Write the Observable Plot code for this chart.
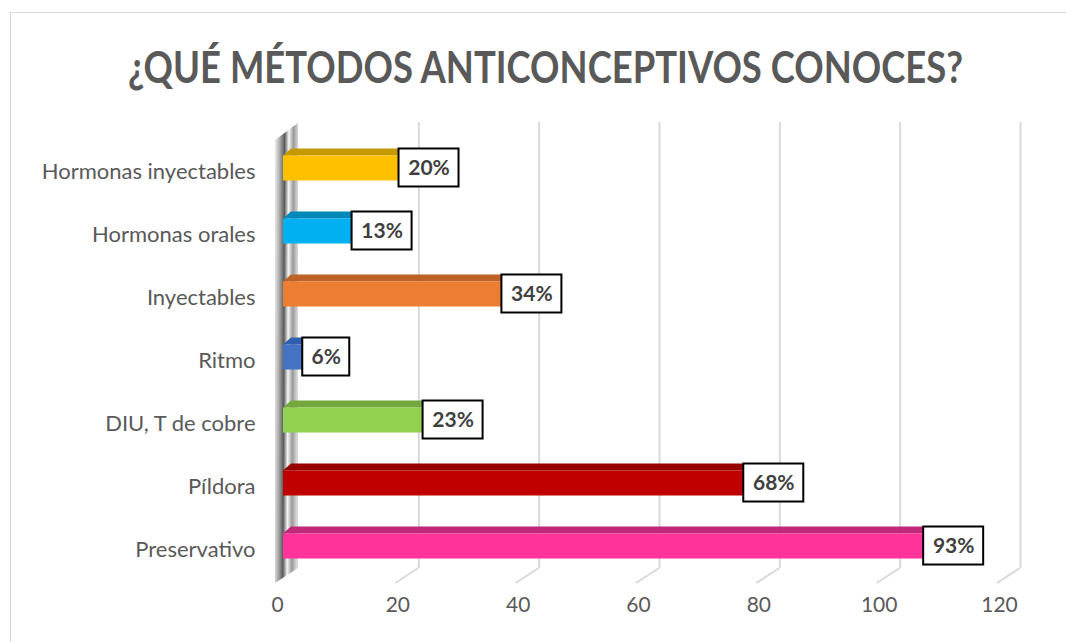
<!DOCTYPE html>
<html>
<head>
<meta charset="utf-8">
<script src="https://cdn.jsdelivr.net/npm/d3@7"></script>
<script src="https://cdn.jsdelivr.net/npm/@observablehq/plot@0.6"></script>
<style>
  html, body { margin: 0; padding: 0; background: #fff; overflow: hidden; }
  body { position: relative; width: 1066px; height: 642px; }
  #frame { position: absolute; left: 10px; top: 12px; width: 1100px; height: 700px; border: 1px solid #d9d9d9; }
  #title { position: absolute; left: 0; top: 0; width: 1066px; height: 100px; }
  #title span { position: absolute; top: 44px; left: 0; white-space: nowrap; font-family: Lato, "Open Sans", sans-serif; font-weight: 700; font-size: 44px; line-height: 44px; color: #595959; transform-origin: 0 0; }
  #chart { position: absolute; left: 0; top: 100px; }
</style>
</head>
<body>
<div id="frame"></div>
<div id="title"><span id="ttl">¿QUÉ MÉTODOS ANTICONCEPTIVOS CONOCES?</span></div>
<div id="chart"></div>
<script>
const categories = ["Hormonas inyectables", "Hormonas orales", "Inyectables", "Ritmo", "DIU, T de cobre", "Píldora", "Preservativo"];
const values = [19.2, 11.4, 36.3, 3.2, 23.2, 76.5, 106.4];
const labels = ["20%", "13%", "34%", "6%", "23%", "68%", "93%"];
const frontColors = ["#FFC000", "#00B0F0", "#ED7D31", "#4472C4", "#92D050", "#C00000", "#FF3399"];
const topColors = ["#C49A00", "#0088B8", "#BE6226", "#2F5FAE", "#74A83E", "#960000", "#C2287A"];
const xTicks = [0, 20, 40, 60, 80, 100, 120];

const data = categories.map((c, i) => ({cat: c, k: i, value: values[i], label: labels[i], front: frontColors[i], top: topColors[i]}));

const DX = 8, DY = 7; // bar depth offset
function threeD(index, scales, vals, dims) {
  const x = scales.x, y = scales.y;
  const g = d3.create("svg:g");
  const defs = g.append("defs");
  const grad = defs.append("linearGradient").attr("id", "wallGrad").attr("x1", 0).attr("x2", 1).attr("y1", 0).attr("y2", 0.08);
  [[0, "#ececec"], [0.2, "#b0b0b0"], [0.42, "#5a5a5a"], [0.6, "#f6f6f6"], [0.8, "#9a9a9a"], [1, "#d8d8d8"]]
    .forEach(([o, c]) => grad.append("stop").attr("offset", o).attr("stop-color", c));
  const bottom = dims.height - dims.marginBottom;
  const top = dims.marginTop;
  // floor diagonals
  xTicks.filter(t => t > 0).forEach(t => {
    g.append("line").attr("x1", x(t) + 15).attr("y1", bottom - 15).attr("x2", x(t) - 8).attr("y2", bottom)
      .attr("stroke", "#d9d9d9").attr("stroke-width", 2);
  });
  // wall
  const x0 = x(0);
  g.append("polygon")
    .attr("points", [[x0 - 8, top + 18], [x0 + 15, top + 1], [x0 + 15, bottom - 15], [x0 - 8, bottom]].map(p => p.join(",")).join(" "))
    .attr("fill", "url(#wallGrad)");
  // bar top and side faces
  data.forEach(d => {
    const cy = y(d.k);
    const yt = cy - 12.5, yb = cy + 12.5;
    const xa = x(0), xb = x(d.value);
    g.append("polygon")
      .attr("points", [[xa, yt], [xb, yt], [xb + DX, yt - DY], [xa + DX, yt - DY]].map(p => p.join(",")).join(" "))
      .attr("fill", d.top);
    g.append("polygon")
      .attr("points", [[xb, yt], [xb + DX, yt - DY], [xb + DX, yb - DY], [xb, yb]].map(p => p.join(",")).join(" "))
      .attr("fill", d.top);
  });
  return g.node();
}

const font = "Lato, 'Open Sans', sans-serif";
const short = data.filter(d => d.label.length < 3);
const long = data.filter(d => d.label.length >= 3);

const chart = Plot.plot({
  width: 1066,
  height: 542,
  marginLeft: 283,
  marginRight: 61,
  marginTop: 22,
  marginBottom: 59,
  style: {background: "none", fontFamily: font},
  x: {domain: [0, 120], axis: null},
  y: {type: "linear", domain: [-0.73, 6.587], range: [22, 483], axis: null},
  marks: [
    Plot.ruleX(xTicks.filter(t => t > 0), {x: d => d, dx: 15, insetBottom: 15, stroke: "#d9d9d9", strokeWidth: 2}),
    threeD,
    Plot.rect(data, {x1: 0, x2: "value", y1: d => d.k - 0.5, y2: d => d.k + 0.5, insetTop: 19, insetBottom: 19, fill: "front"}),
    Plot.rect(long, {x1: "value", x2: "value", y1: d => d.k - 0.5, y2: d => d.k + 0.5, insetTop: 12, insetBottom: 13, insetRight: -60, fill: "white", stroke: "black", strokeWidth: 2}),
    Plot.rect(short, {x1: "value", x2: "value", y1: d => d.k - 0.5, y2: d => d.k + 0.5, insetTop: 12, insetBottom: 13, insetRight: -47, fill: "white", stroke: "black", strokeWidth: 2}),
    Plot.text(long, {x: "value", y: "k", text: "label", dx: 30, dy: 0, fontSize: 21, fontWeight: 700, fill: "#404040"}),
    Plot.text(short, {x: "value", y: "k", text: "label", dx: 23.5, dy: 0, fontSize: 21, fontWeight: 700, fill: "#404040"}),
    Plot.text(data, {x: 0, y: "k", text: "cat", textAnchor: "end", dx: -28, dy: 3, fontSize: 22, fill: "#595959"}),
    Plot.text(xTicks, {x: d => d, frameAnchor: "bottom", dy: 28, dx: -6, text: d => String(d), fontSize: 21, fill: "#595959"})
  ]
});
document.getElementById("chart").appendChild(chart);

// fit the title width to the reference
const t = document.getElementById("ttl");
const w = t.getBoundingClientRect().width;
const target = 835;
const s = target / w;
t.style.transform = `scaleX(${s})`;
t.style.left = (545 - target / 2) + "px";
</script>
</body>
</html>
